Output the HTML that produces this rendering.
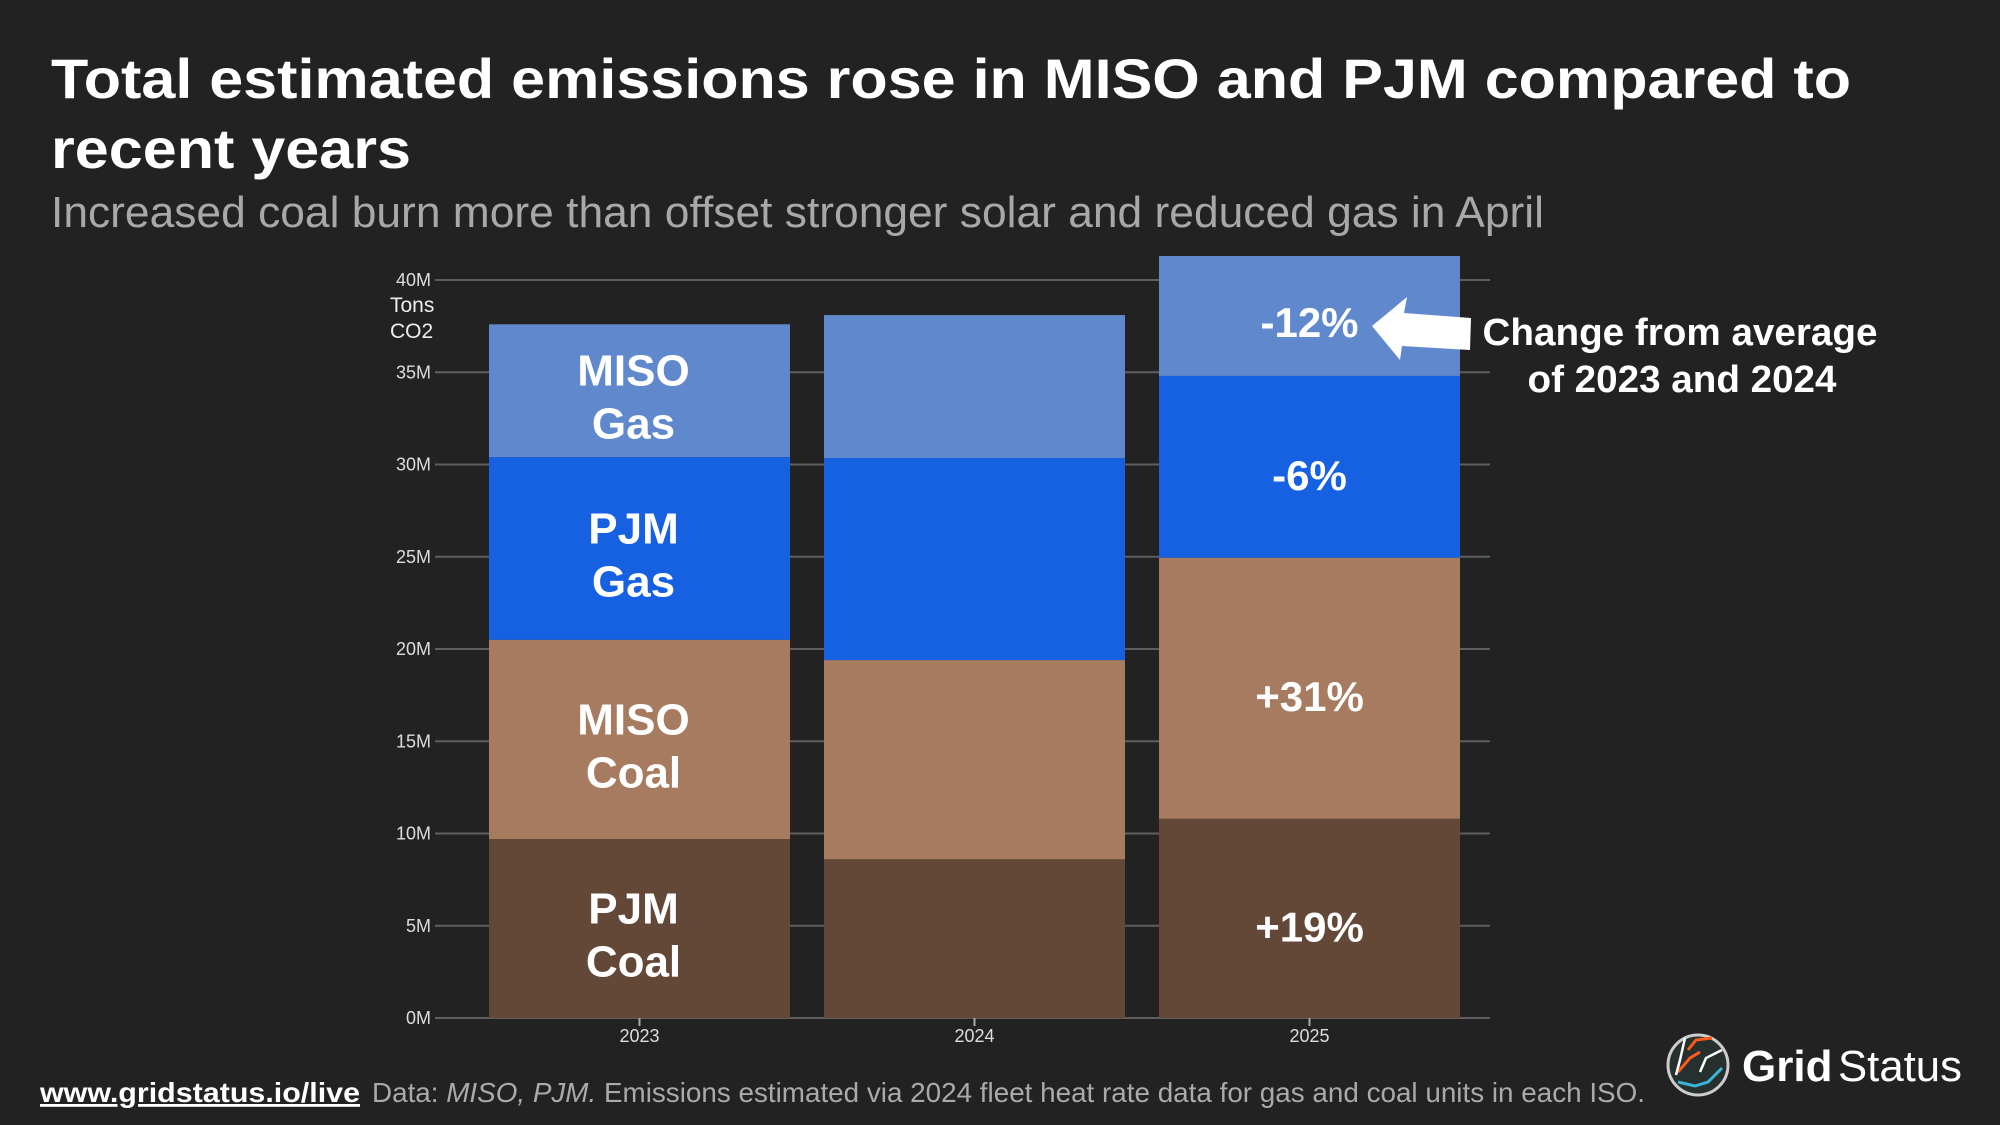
<!DOCTYPE html>
<html><head><meta charset="utf-8"><style>
html,body{margin:0;padding:0;background:#222;}
svg{display:block;font-family:"Liberation Sans",Arial,sans-serif;}
</style></head><body>
<svg id="chart" width="2000" height="1125" viewBox="0 0 2000 1125">
<rect width="2000" height="1125" fill="#222222"/>
<text x="51" y="98" font-size="56" font-weight="bold" fill="#fff" textLength="1800" lengthAdjust="spacingAndGlyphs">Total estimated emissions rose in MISO and PJM compared to</text>
<text x="51" y="168" font-size="56" font-weight="bold" fill="#fff" textLength="360" lengthAdjust="spacingAndGlyphs">recent years</text>
<text x="51" y="227" font-size="44" fill="#a8a8a8" textLength="1493" lengthAdjust="spacingAndGlyphs">Increased coal burn more than offset stronger solar and reduced gas in April</text>
<g id="grid"></g>
<g id="bars"></g>
<g id="yticks"></g>
<g id="xticks"></g>
<text x="390" y="312" font-size="21" fill="#eee">Tons</text>
<text x="390" y="338" font-size="21" fill="#eee">CO2</text>
<g id="labels" font-weight="bold" fill="#fff" text-anchor="middle" font-size="44"></g>
<polygon points="1372,326 1407,297 1404,313 1471,318 1470,350 1402,346 1400,360" fill="#fff"/>
<text x="1680" y="345" font-size="38" font-weight="bold" fill="#fff" text-anchor="middle" textLength="395" lengthAdjust="spacingAndGlyphs">Change from average</text>
<text x="1682" y="392" font-size="38" font-weight="bold" fill="#fff" text-anchor="middle" textLength="309" lengthAdjust="spacingAndGlyphs">of 2023 and 2024</text>
<text x="40" y="1102" font-size="28" font-weight="bold" fill="#fff" text-decoration="underline" textLength="320" lengthAdjust="spacingAndGlyphs">www.gridstatus.io/live</text>
<text x="372" y="1102" font-size="28" fill="#aaa" textLength="1273" lengthAdjust="spacingAndGlyphs">Data: <tspan font-style="italic">MISO, PJM.</tspan> Emissions estimated via 2024 fleet heat rate data for gas and coal units in each ISO.</text>
<g>
<circle cx="1698" cy="1065" r="30" fill="#26302f" stroke="#ccc" stroke-width="3"/>
<path d="M1678,1072 L1690,1058 L1700,1052 M1688,1050 L1696,1040 L1712,1038" stroke="#ff5a1a" stroke-width="3" fill="none"/>
<path d="M1685,1038 L1680,1060 L1676,1075 M1700,1072 L1706,1058 L1722,1050" stroke="#fff" stroke-width="2.5" fill="none"/>
<path d="M1678,1082 L1695,1086 L1708,1082 L1722,1068" stroke="#3ab5d8" stroke-width="3" fill="none"/>
<text x="1742" y="1081" font-size="44" font-weight="bold" fill="#fff">Grid</text>
<text x="1838" y="1081" font-size="44" fill="#fff" textLength="124" lengthAdjust="spacingAndGlyphs">Status</text>
</g>
</svg>
<script>
const years = ["2023","2024","2025"];
const pjmCoal = [9.7, 8.6, 10.8];
const misoCoal = [10.8, 10.8, 14.15];
const pjmGas = [9.9, 10.95, 9.85];
const misoGas = [7.2, 7.75, 6.5];
const yTicks = [0,5,10,15,20,25,30,35,40];
const yTickLabels = ["0M","5M","10M","15M","20M","25M","30M","35M","40M"];
const pctLabels = ["+19%","+31%","-6%","-12%"];

const NS="http://www.w3.org/2000/svg";
const y0=1018, pxPerM=18.45;
const y = v => y0 - v*pxPerM;
const barLeft0=489, barStep=335, barW=301;
const x = i => barLeft0 + i*barStep;
function mk(tag, attrs, parent){const e=document.createElementNS(NS,tag);for(const k in attrs)e.setAttribute(k,attrs[k]);parent.appendChild(e);return e;}

const grid=document.getElementById('grid'), yt=document.getElementById('yticks');
yTicks.forEach((t,i)=>{
  const l=mk('line',{x1:435,x2:1490,y1:y(t),y2:y(t),stroke:'#5e5e5e','stroke-width':2},grid);
  
  
  const tx=mk('text',{x:431,y:y(t)+6,'font-size':18,fill:'#ddd','text-anchor':'end'},yt);
  tx.textContent=yTickLabels[i];
  
  
});
const series=[[pjmCoal,'#634838','pjm-coal'],[misoCoal,'#a67b60','miso-coal'],[pjmGas,'#1561e2','pjm-gas'],[misoGas,'#6088cc','miso-gas']];
const bars=document.getElementById('bars'), xt=document.getElementById('xticks'), lab=document.getElementById('labels');
years.forEach((yr,i)=>{
  let base=0;
  series.forEach(([arr,col,nm],si)=>{
    const top=base+arr[i];
    const r=mk('rect',{x:x(i),y:y(top),width:barW,height:y(base)-y(top),fill:col},bars);
    
    
    const mid=(y(base)+y(top))/2;
    if(i===0){
      const words=[["PJM","Coal"],["MISO","Coal"],["PJM","Gas"],["MISO","Gas"]][si];
      words.forEach((w,wi)=>{
        const t=mk('text',{x:x(i)+barW/2-6,y:mid-5+(wi?53:0)},lab);
        t.textContent=w;
        
        
      });
    }
    if(i===2){
      const ly = si===3 ? 337 : mid+23;
      const t=mk('text',{x:x(i)+barW/2,y:ly,'font-size':42},lab);
      t.textContent=pctLabels[si];
      
      
    }
    base=top;
  });
  const cx=x(i)+barW/2;
  const tk=mk('line',{x1:cx,x2:cx,y1:y0,y2:y0+8,stroke:'#aaa','stroke-width':2},xt);
  
  
  const t=mk('text',{x:cx,y:1042,'font-size':18,fill:'#ddd','text-anchor':'middle'},xt);
  t.textContent=yr;
  
  
});
</script>
</body></html>
